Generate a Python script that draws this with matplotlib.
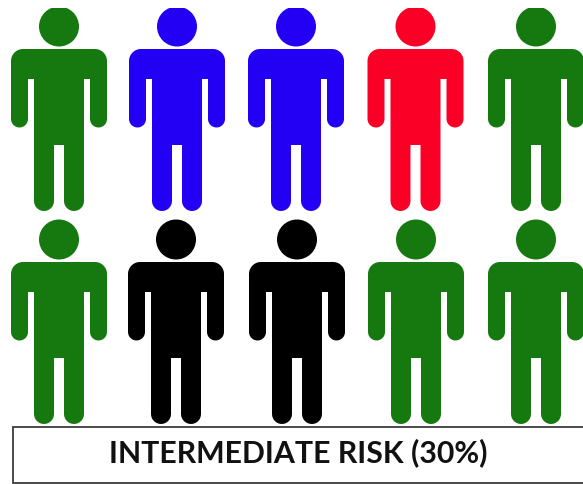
import numpy as np
import matplotlib
matplotlib.use('Agg')
import matplotlib.pyplot as plt
from matplotlib.patches import Circle, PathPatch, Rectangle
from matplotlib.path import Path

GREEN = '#15790f'
BLUE = '#2300f4'
RED = '#fb0026'
BLACK = '#000000'

# one row per line of figures
row_colors = [
    [GREEN, BLUE, BLUE, RED, GREEN],
    [GREEN, BLACK, BLACK, GREEN, GREEN],
]
row_centers = [
    [59, 177, 296, 415.5, 536],
    [59, 176, 297, 416, 536],
]
row_shoulders = [49, 262]
caption = 'INTERMEDIATE RISK (30%)'


def arc(cx, cy, r, start, stop, n=16):
    t = np.radians(np.linspace(start, stop, n))
    return np.column_stack([cx + r*np.cos(t), cy + r*np.sin(t)])


def body_outline():
    # right half of the body, y grows downward from the shoulder line
    half = np.vstack([
        [[0, 0]],
        arc(36, 12, 12, -90, 0),            # shoulder corner
        arc(39.5, 70, 8.5, 0, 180),         # hand
        [[31, 30], [25, 30]],               # armpit
        arc(15, 152, 10, 0, 180),           # foot
        [[5, 96], [0, 96]],                 # crotch
    ])
    mirror = half[::-1] * [-1, 1]
    return np.vstack([half, mirror])


def draw_person(ax, x, shoulder, color):
    pts = body_outline() + [x, shoulder]
    ax.add_patch(PathPatch(Path(pts, closed=False), facecolor=color, edgecolor='none'))
    ax.add_patch(Circle((x, shoulder - 22.5), 20, facecolor=color, edgecolor='none'))


fig = plt.figure(figsize=(5.83, 4.84), dpi=100)
ax = fig.add_axes([0, 0, 1, 1])
ax.set_xlim(0, 583)
ax.set_ylim(484, 0)
ax.axis('off')

for colors, centers, shoulder in zip(row_colors, row_centers, row_shoulders):
    for color, x in zip(colors, centers):
        draw_person(ax, x, shoulder, color)

# heads in the top row stop at a flat edge
ax.add_patch(Rectangle((0, 0), 583, 8, facecolor='white', edgecolor='none', zorder=3))

ax.add_patch(Rectangle((12.5, 427), 575, 56, facecolor='white', edgecolor='#3c3c3c', linewidth=1.3, zorder=4))
ax.text(298, 453, caption, ha='center', va='center', fontsize=21.8, fontweight='bold',
        family='Lato', color='#111111', zorder=5)

fig.savefig('out.png', dpi=100)
